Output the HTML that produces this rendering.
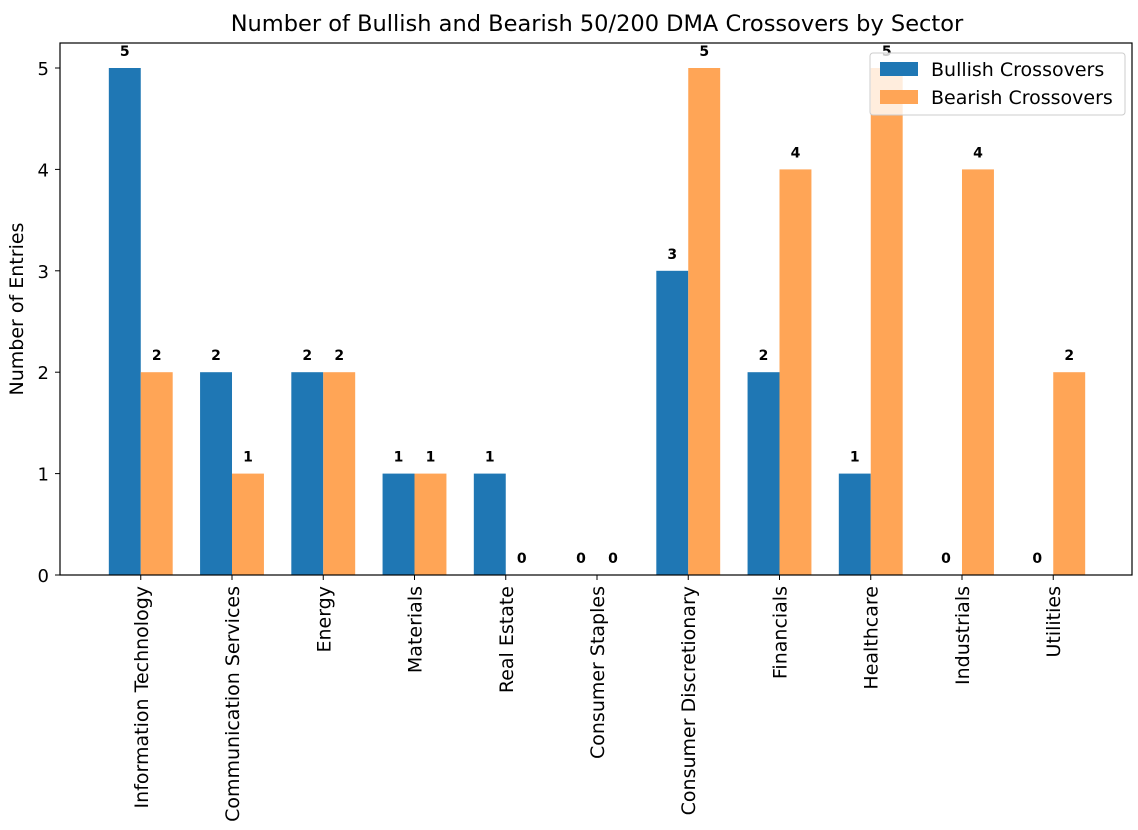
<!DOCTYPE html>
<html><head><meta charset="utf-8"><style>
body{margin:0;background:#fff;}
svg{display:block;font-family:"DejaVu Sans","Liberation Sans",sans-serif;}
</style></head><body>
<svg id="chart" width="1138" height="830">
<rect width="1138" height="830" fill="#fff"/>
<text x="597" y="31" text-anchor="middle" font-size="22.5">Number of Bullish and Bearish 50/200 DMA Crossovers by Sector</text>
<text transform="translate(23,309) rotate(-90)" text-anchor="middle" font-size="19">Number of Entries</text>
<g id="plot"></g>
<rect x="60" y="43" width="1072" height="532" fill="none" stroke="#000" stroke-width="1.2"/>
<g>
<rect x="870" y="53" width="255" height="62" rx="3" fill="#fff" fill-opacity="0.8" stroke="#ccc"/>
<rect x="880" y="62" width="38" height="14" fill="#1f77b4"/>
<text x="931" y="76" font-size="19">Bullish Crossovers</text>
<rect x="880" y="90" width="38" height="14" fill="#ffa556"/>
<text x="931" y="104" font-size="19">Bearish Crossovers</text>
</g>
</svg>
<script>
const categories=["Information Technology","Communication Services","Energy","Materials","Real Estate","Consumer Staples","Consumer Discretionary","Financials","Healthcare","Industrials","Utilities"];
const bullish=[5,2,2,1,1,0,3,2,1,0,0];
const bearish=[2,1,2,1,0,0,5,4,5,4,2];
const yTicks=[0,1,2,3,4,5];
const NS="http://www.w3.org/2000/svg";
const g=document.getElementById('plot');
const xMin=-0.885,xMax=10.885,pxL=60,pxR=1134;
const x=v=>pxL+(v-xMin)/(xMax-xMin)*(pxR-pxL);
const y=v=>575-v*101.4;
const unit=x(1)-x(0),bw=0.35*unit;
function el(t,a,txt){const e=document.createElementNS(NS,t);for(const k in a)e.setAttribute(k,a[k]);if(txt!==undefined)e.textContent=txt;g.appendChild(e);return e;}
yTicks.forEach(t=>{
 const l=el('line',{x1:55,x2:60,y1:y(t),y2:y(t),stroke:'#000'});
 
 
 const tx=el('text',{x:49,y:y(t)+7,'text-anchor':'end','font-size':18},String(t));
 
 
});
categories.forEach((c,i)=>{
 const cx=x(i);
 const tk=el('line',{x1:cx,x2:cx,y1:575,y2:580,stroke:'#000'});
 
 
 const lb=el('text',{transform:`translate(${cx+7},586) rotate(-90)`,'text-anchor':'end','font-size':19},c);
 
 
 [[bullish[i],'#1f77b4',-1,'bullish'],[bearish[i],'#ffa556',0,'bearish']].forEach(([v,col,off,nm])=>{
  const bx=cx+off*bw;
  const r=el('rect',{x:bx,y:y(v),width:bw,height:y(0)-y(v),fill:col});
  
  
  const t=el('text',{x:bx+bw/2,y:y(v)-12,'text-anchor':'middle','font-size':14,'font-weight':'bold'},String(v));
  
  
 });
});
</script>
</body></html>
